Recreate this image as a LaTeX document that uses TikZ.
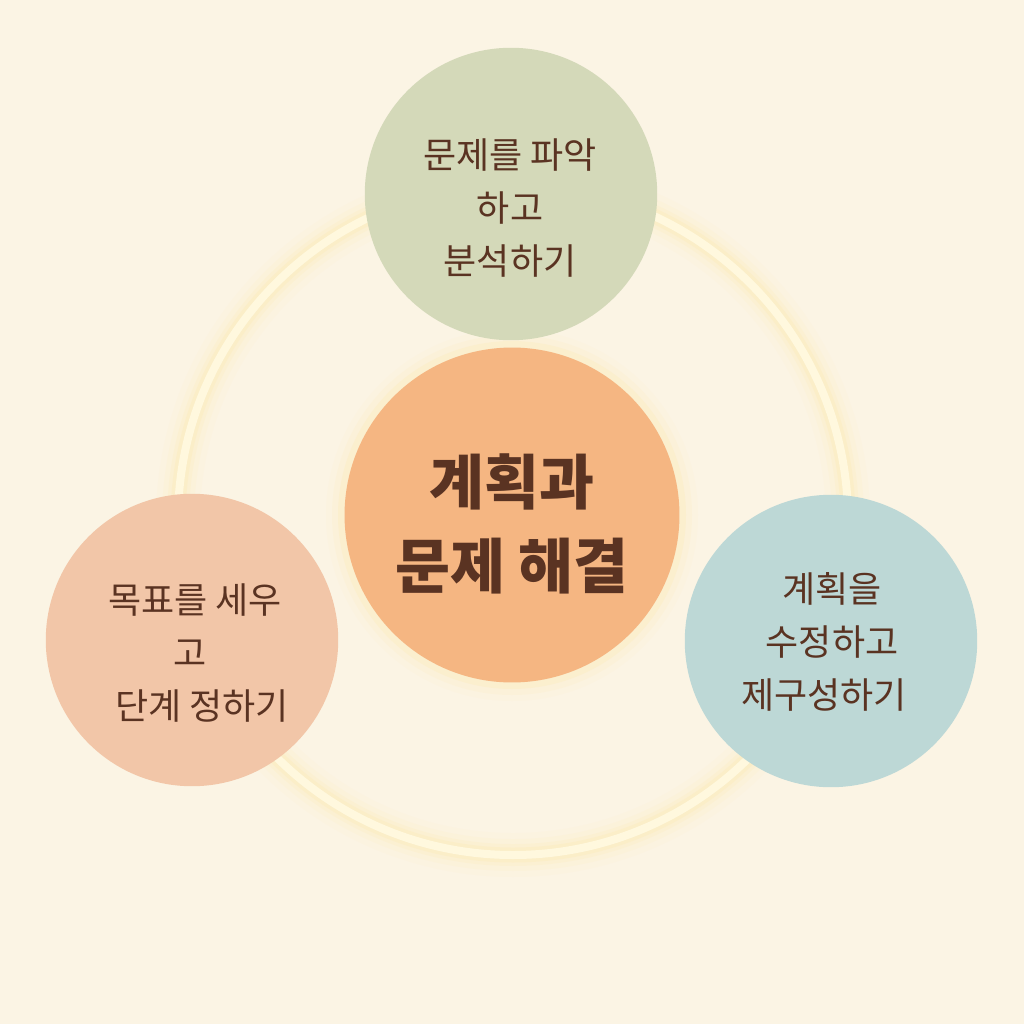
\documentclass[tikz,border=0pt]{standalone}
\usepackage{fontspec}
\setmainfont{Noto Sans CJK KR}
\usetikzlibrary{positioning,calc}
\definecolor{cBack}{HTML}{FBF4E4}
\definecolor{cRing}{HTML}{FFF8DE}
\definecolor{cGlow}{HTML}{FFE7A0}
\definecolor{cInk}{HTML}{5A3322}
\definecolor{cAnalyse}{HTML}{D4D9B9}
\definecolor{cCore}{HTML}{F5B682}
\definecolor{cGoal}{HTML}{F2C6A8}
\definecolor{cRevise}{HTML}{BDD8D6}
\tikzset{
  phase/.style={circle, fill=#1, minimum size=5.85cm, inner sep=0pt},
  core/.style={circle, fill=cCore, minimum size=6.7cm, inner sep=0pt},
  phasetext/.style={align=center, text=cInk, inner sep=0pt, font=\fontsize{20.5}{30}\selectfont},
  coretext/.style={align=center, text=cInk, inner sep=0pt, font=\fontsize{34}{48}\selectfont\bfseries},
}

\begin{document}
\begin{tikzpicture}[x=0.02cm, y=-0.02cm]

  % ---------- page ----------
  \useasboundingbox (0,0) rectangle (1024,1024);
  \fill[cBack] (0,0) rectangle (1024,1024);

  % ---------- ring with glow ----------
  \coordinate (mid) at (513,520);
  \foreach \w/\op in {44/0.05, 32/0.08, 22/0.12, 15/0.18}
    \draw[cGlow, line width=\w*0.2mm, opacity=\op] (mid) circle[radius=335];
  \draw[cRing, line width=1.6mm] (mid) circle[radius=335];

  % ---------- glow round the centre ----------
  \foreach \w/\op in {36/0.06, 24/0.1, 12/0.18}
    \fill[cGlow, opacity=\op] (512,515) circle[radius=168+\w/2];

  % ---------- circles ----------
  \node[core] (plan) at (512,515) {};
  \node[phase=cAnalyse] (analyse) at (511,194) {};
  \node[phase=cGoal] (goal) at (192,640) {};
  \node[phase=cRevise] (revise) at (831,641) {};

  % ---------- texts ----------
  \node[coretext] (plantext) at ($(plan)+(0,9)$) {계획과\\문제 해결};
  \node[phasetext] (analysetext) at ($(analyse)+(-1,14)$) {문제를 파악\\하고\\분석하기};
  \node[phasetext] (goaltext) at ($(goal)+(3,13)$)
    {목표를 세우\\\hspace*{-0.28em}고\\\hspace*{0.4em}단계 정하기};
  \node[phasetext] (revisetext) at ($(revise)+(-7,1)$)
    {\hspace*{0.45em}계획을\\\hspace*{0.45em}수정하고\\제구성하기};

\end{tikzpicture}
\end{document}
